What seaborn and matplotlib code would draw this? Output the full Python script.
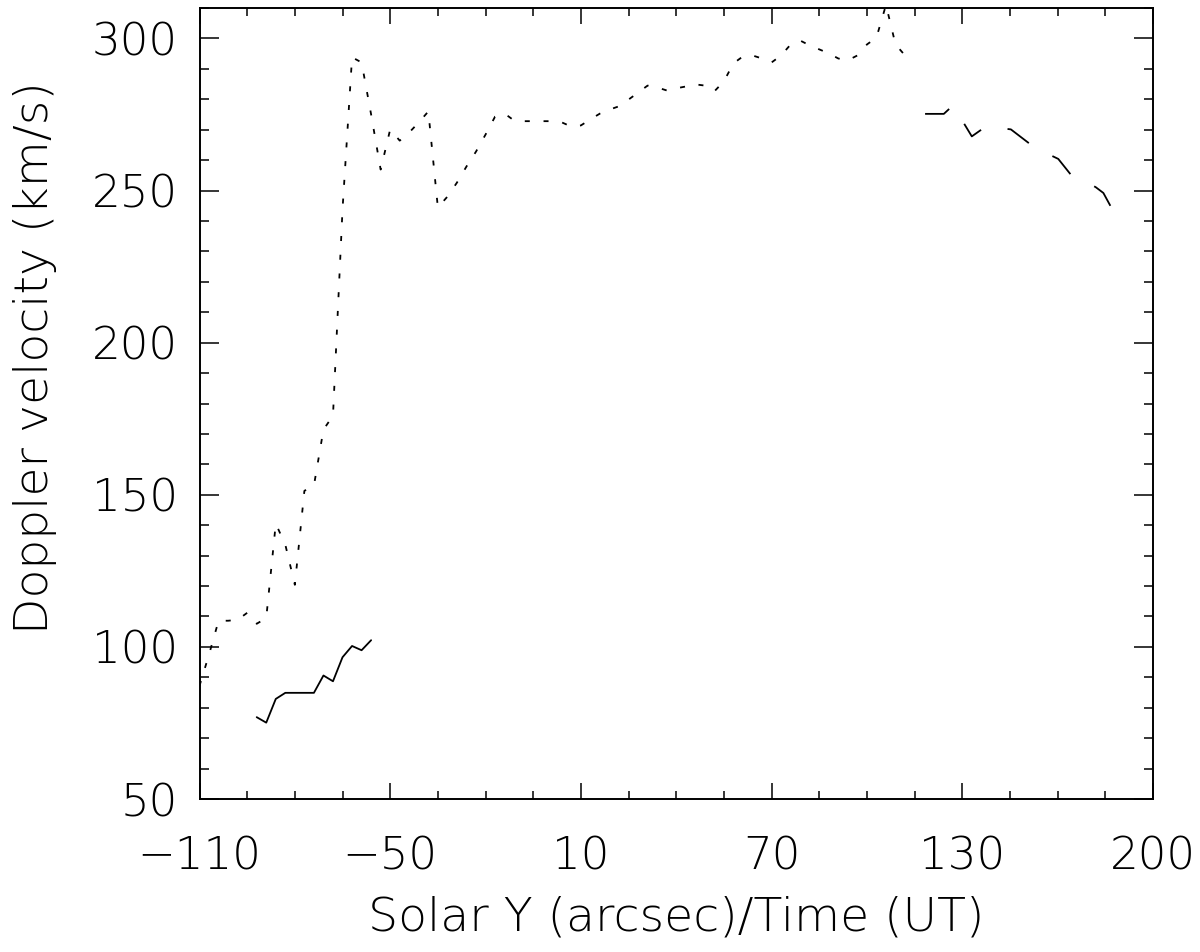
import numpy as np
import pandas as pd
import matplotlib
matplotlib.use("Agg")
import matplotlib.pyplot as plt
from matplotlib.ticker import MultipleLocator, FixedLocator
import seaborn as sns

# dotted series: solar Y (arcsec) vs Doppler velocity (km/s)
dot_y = [-110, -107, -104, -101, -98, -95, -92, -89, -86, -83,
         -80, -77, -74, -71, -68, -65, -62, -59, -56, -53,
         -50, -47, -44, -41, -38, -35, -32, -29, -26, -23,
         -20, -17, -14, -11, -8, -5, -2, 1, 4, 7,
         10, 13, 16, 19, 22, 25, 28, 31, 34, 37,
         40, 43, 46, 49, 52, 55, 58, 61, 64, 67,
         70, 73, 76, 79, 82, 85, 88, 91, 94, 97,
         100, 103, 106, 109, 112, 115]
dot_v = [87.2, 97.5, 108.6, 108.6, 108.9, 111.2, 107.6, 109.5, 140.5, 133.6,
         120.4, 151.3, 153.0, 171.4, 176.0, 243.8, 293.8, 292.1, 275.0, 256.9,
         270.1, 266.4, 269.1, 272.4, 276.0, 244.4, 248.0, 252.6, 257.9, 262.8,
         268.4, 274.3, 275.3, 273.0, 272.8, 272.8, 272.8, 272.8, 272.4, 271.0,
         271.4, 273.4, 275.3, 276.6, 277.7, 279.9, 282.2, 284.5, 283.9, 282.9,
         283.6, 284.2, 284.9, 284.5, 282.6, 285.9, 291.8, 294.1, 294.4, 293.4,
         292.1, 294.4, 298.0, 299.3, 297.7, 296.4, 295.1, 293.4, 292.8, 294.4,
         298.0, 300.3, 311.0, 298.0, 294.4, 294.4]

# solid series
sol_y = [-92, -89, -86, -83, -80, -77, -74, -71, -68, -65, -62, -59, -56]
sol_v = [76.9, 75.1, 82.9, 84.9, 84.9, 84.9, 84.9, 90.6, 88.7, 96.6, 100.3, 98.9, 102.2]

# dashed series
dsh_y = [118.3, 124.2, 127.1, 133.0, 136.4, 140.6, 145.3, 151.8, 156.0,
         160.2, 164.4, 168.6, 172.0, 174.4, 176.8]
dsh_v = [275.2, 275.2, 278.0, 267.8, 270.3, 270.7, 270.1, 264.9, 262.5,
         260.4, 254.9, 253.0, 251.1, 249.2, 244.6]

xticks = [-110, -50, 10, 70, 130, 190]
xticklabels = ["\u2212110", "\u221250", "10", "70", "130", "200"]
yticks = [50, 100, 150, 200, 250, 300]

sns.set_style("ticks")
plt.rcParams["font.family"] = ["DejaVu Sans"]
plt.rcParams["lines.scale_dashes"] = False
plt.rcParams["text.color"] = "black"
plt.rcParams["axes.labelcolor"] = "black"
plt.rcParams["xtick.color"] = "black"
plt.rcParams["ytick.color"] = "black"

fig = plt.figure(figsize=(12, 9.52), dpi=100)
ax = fig.add_axes([0.16625, 0.1607, 0.9608 - 0.16625, 0.9916 - 0.1607])

dots = pd.DataFrame({"y": dot_y, "v": dot_v})
solid = pd.DataFrame({"y": sol_y, "v": sol_v})
dashed = pd.DataFrame({"y": dsh_y, "v": dsh_v})

sns.lineplot(data=dots, x="y", y="v", ax=ax, color="black", lw=1.3,
             estimator=None, sort=False, linestyle=(0, (3.6, 9.9)))
sns.lineplot(data=solid, x="y", y="v", ax=ax, color="black", lw=1.3,
             estimator=None, sort=False)
sns.lineplot(data=dashed, x="y", y="v", ax=ax, color="black", lw=1.3,
             estimator=None, sort=False, linestyle=(0, (18.7, 19.4)))

ax.set_xlim(-110, 190)
ax.set_ylim(50, 310)
ax.xaxis.set_major_locator(FixedLocator(xticks))
ax.set_xticklabels(xticklabels)
ax.xaxis.set_minor_locator(MultipleLocator(15, offset=10))
ax.yaxis.set_major_locator(FixedLocator(yticks))
ax.yaxis.set_minor_locator(MultipleLocator(10))

for s in ax.spines.values():
    s.set_visible(True)
    s.set_linewidth(1.4)
    s.set_color("black")

ax.tick_params(which="both", direction="in", top=True, right=True,
               width=1.1, color="black", labelcolor="black")
ax.tick_params(axis="x", which="major", length=11.5, pad=26, labelsize=32.5)
ax.tick_params(axis="x", which="minor", length=5.8)
ax.tick_params(axis="y", which="major", length=13.7, pad=15.5, labelsize=32.5)
ax.tick_params(axis="y", which="minor", length=6.5)

for lab in ax.get_xticklabels() + ax.get_yticklabels():
    lab.set_fontweight(200)

ax.set_xlabel("Solar Y (arcsec)/Time (UT)", fontsize=34, fontweight=200, color="black")
ax.set_ylabel("Doppler velocity (km/s)", fontsize=34, fontweight=200, color="black")
ax.xaxis.set_label_coords(0.5, -0.1224)
ax.yaxis.set_label_coords(-0.1494, 0.5575)

fig.savefig("out.png", dpi=100, facecolor="white")
